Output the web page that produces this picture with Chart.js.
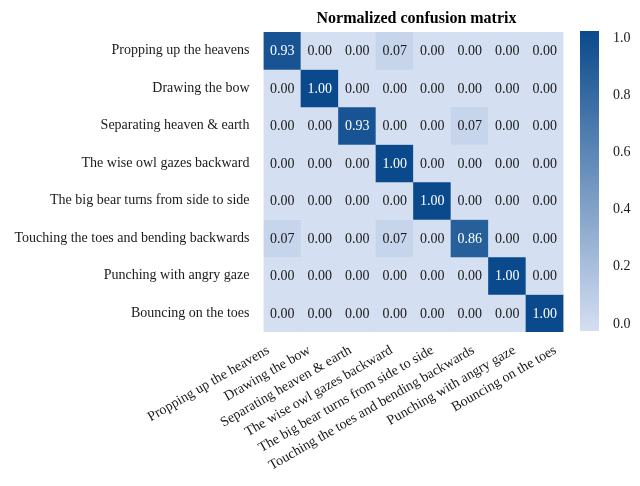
<!DOCTYPE html>
<html>
<head>
<meta charset="utf-8">
<script src="https://cdn.jsdelivr.net/npm/chart.js@4.4.1/dist/chart.umd.min.js"></script>
<style>
  body { margin: 0; background: #fff; }
  #wrap { position: relative; width: 640px; height: 486px; }
  #matrix { position: absolute; left: 0; top: 0; }
  #cbar { position: absolute; left: 560px; top: 0; }
</style>
</head>
<body>
<div id="wrap">
  <canvas id="matrix" width="640" height="486"></canvas>
  <canvas id="cbar" width="80" height="486"></canvas>
</div>
<script>
// clases (filas = verdaderas, columnas = predichas)
const classNames = [
    'Propping up the heavens',
    'Drawing the bow',
    'Separating heaven & earth',
    'The wise owl gazes backward',
    'The big bear turns from side to side',
    'Touching the toes and bending backwards',
    'Punching with angry gaze',
    'Bouncing on the toes'
];

// matriz normalizada, una fila por clase
const row0 = [0.93, 0.00, 0.00, 0.07, 0.00, 0.00, 0.00, 0.00];
const row1 = [0.00, 1.00, 0.00, 0.00, 0.00, 0.00, 0.00, 0.00];
const row2 = [0.00, 0.00, 0.93, 0.00, 0.00, 0.07, 0.00, 0.00];
const row3 = [0.00, 0.00, 0.00, 1.00, 0.00, 0.00, 0.00, 0.00];
const row4 = [0.00, 0.00, 0.00, 0.00, 1.00, 0.00, 0.00, 0.00];
const row5 = [0.07, 0.00, 0.00, 0.07, 0.00, 0.86, 0.00, 0.00];
const row6 = [0.00, 0.00, 0.00, 0.00, 0.00, 0.00, 1.00, 0.00];
const row7 = [0.00, 0.00, 0.00, 0.00, 0.00, 0.00, 0.00, 1.00];
const matrix = [row0, row1, row2, row3, row4, row5, row6, row7];

// marcas de la barra de color
const colorbarTicks = [0.0, 0.2, 0.4, 0.6, 0.8, 1.0];

const serif = "'Liberation Serif', 'Times New Roman', serif";
const lightRGB = [212, 223, 242];
const darkRGB = [10, 74, 140];

// mapa de color azul: 0 -> claro, 1 -> oscuro
function blue(v) {
    const c = lightRGB.map((l, i) => Math.round(l + (darkRGB[i] - l) * v));
    return `rgb(${c[0]}, ${c[1]}, ${c[2]})`;
}

// cada fila es un dataset de barras flotantes [r, r+1]
const datasets = matrix.map((row, r) => ({
    data: row.map(() => [r, r + 1]),
    backgroundColor: row.map(v => blue(v)),
    borderWidth: 0,
    grouped: false,
    barPercentage: 1,
    categoryPercentage: 1
}));

// escribe los valores dentro de las celdas y el título
const cellText = {
    id: 'cellText',
    afterDatasetsDraw(chart) {
        const c = chart.ctx;
        c.save();
        c.font = `14px ${serif}`;
        c.textAlign = 'center';
        c.textBaseline = 'middle';
        matrix.forEach((row, r) => {
            const meta = chart.getDatasetMeta(r);
            row.forEach((v, col) => {
                const bar = meta.data[col];
                c.fillStyle = v > 0.5 ? '#ffffff' : '#1a1a1a';
                c.fillText(v.toFixed(2), bar.x, (bar.y + bar.base) / 2 + 1);
            });
        });
        const area = chart.chartArea;
        c.font = `bold 16px ${serif}`;
        c.fillStyle = '#000';
        c.fillText('Normalized confusion matrix', (area.left + area.right) / 2 + 3, 19);
        c.restore();
    }
};

// rango del eje de etiquetas inclinadas (algo más abiertas que las columnas)
const labelMin = 0.378, labelMax = 7.695;

new Chart(document.getElementById('matrix'), {
    type: 'bar',
    data: { labels: classNames, datasets: datasets },
    plugins: [cellText],
    options: {
        responsive: false,
        animation: false,
        layout: { padding: { top: 32, right: 76.5, left: 0, bottom: 0 } },
        plugins: { legend: { display: false }, tooltip: { enabled: false } },
        scales: {
            x: { display: false },
            xLabels: {
                type: 'linear',
                position: 'bottom',
                offset: false,
                bounds: 'data',
                min: labelMin,
                max: labelMax,
                grid: { display: false },
                border: { display: false },
                afterFit: s => { s.height = 154; },
                afterBuildTicks: s => {
                    s.ticks = classNames.map((_, i) => ({ value: i + 0.5 }));
                },
                ticks: {
                    autoSkip: false,
                    minRotation: 30,
                    maxRotation: 30,
                    padding: 2,
                    color: '#1a1a1a',
                    font: { family: serif, size: 14 },
                    callback: v => classNames[Math.floor(v)]
                }
            },
            y: {
                min: 0,
                max: 8,
                reverse: true,
                grid: { display: false },
                border: { display: false },
                afterFit: s => { s.width = 263.5; },
                afterBuildTicks: s => { s.ticks = classNames.map((_, i) => ({ value: i + 0.5 })); },
                ticks: {
                    padding: 6,
                    color: '#1a1a1a',
                    font: { family: serif, size: 14 },
                    callback: v => classNames[Math.floor(v)]
                }
            }
        }
    }
});

// barra de color
const cbMin = -0.025, cbMax = 1.025;
new Chart(document.getElementById('cbar'), {
    type: 'bar',
    data: {
        labels: [''],
        datasets: [{
            data: [[cbMin, cbMax]],
            borderWidth: 0,
            barPercentage: 1,
            categoryPercentage: 1,
            backgroundColor: ctx => {
                const area = ctx.chart.chartArea;
                if (!area) return blue(0.5);
                const g = ctx.chart.ctx.createLinearGradient(0, area.bottom, 0, area.top);
                for (let i = 0; i <= 10; i++) g.addColorStop(i / 10, blue(i / 10));
                return g;
            }
        }]
    },
    options: {
        responsive: false,
        animation: false,
        layout: { padding: { top: 31, bottom: 155, left: 20, right: 0 } },
        plugins: { legend: { display: false }, tooltip: { enabled: false } },
        scales: {
            x: { display: false },
            y: {
                position: 'right',
                min: cbMin,
                max: cbMax,
                grid: { display: false },
                border: { display: false },
                afterFit: s => { s.width = 41; },
                afterBuildTicks: s => { s.ticks = colorbarTicks.map(v => ({ value: v })); },
                ticks: {
                    padding: 6,
                    color: '#1a1a1a',
                    font: { family: serif, size: 14 },
                    callback: v => v.toFixed(1)
                }
            }
        }
    }
});
</script>
</body>
</html>
